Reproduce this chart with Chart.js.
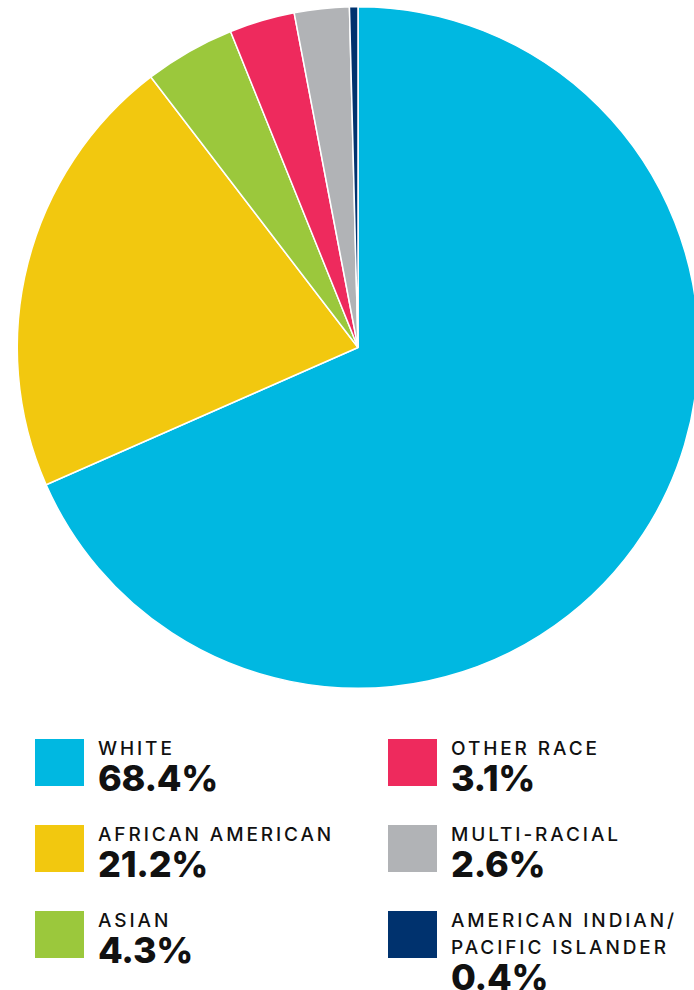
<!DOCTYPE html>
<html>
<head>
<meta charset="utf-8">
<script src="https://cdn.jsdelivr.net/npm/chart.js@4"></script>
<style>
  html, body { margin: 0; padding: 0; background: #fff; }
  body { width: 694px; height: 990px; overflow: hidden; position: relative; font-family: Inter, "Open Sans", sans-serif; color: #111; }
  #pie-wrap { position: absolute; left: 0; top: 6px; width: 716px; height: 683px; }
  .swatch { position: absolute; width: 49px; height: 47px; }
  .item { position: absolute; }
  .item .label { font-size: 19px; line-height: 27px; font-weight: 500; letter-spacing: 2.9px; white-space: nowrap; }
  .item .value { font-size: 36px; line-height: 36px; font-weight: 800; margin-top: -2px; letter-spacing: -0.3px; }
</style>
</head>
<body>
<div id="pie-wrap"><canvas id="chartRaza"></canvas></div>
<div id="legend"></div>
<script>
const categorias = ['WHITE', 'AFRICAN AMERICAN', 'ASIAN', 'OTHER RACE', 'MULTI-RACIAL', 'AMERICAN INDIAN/\nPACIFIC ISLANDER'];
const porcentajes = [68.4, 21.2, 4.3, 3.1, 2.6, 0.4];
const colores = ['#00B8E1', '#F2C80F', '#9BC83C', '#EE2A5D', '#B1B3B6', '#00326E'];

document.addEventListener('DOMContentLoaded', () => {
  const ctx = document.getElementById('chartRaza').getContext('2d');

  new Chart(ctx, {
    type: 'pie',
    data: {
      labels: categorias,
      datasets: [{
        data: porcentajes,
        backgroundColor: colores,
        borderColor: '#ffffff',
        borderWidth: 1.5,
        hoverOffset: 0
      }]
    },
    options: {
      responsive: true,
      maintainAspectRatio: false,
      animation: false,
      layout: { padding: 0 },
      plugins: {
        legend: { display: false },
        tooltip: { enabled: false }
      }
    }
  });

  // leyenda en dos columnas, tres filas
  const legend = document.getElementById('legend');
  categorias.forEach((cat, i) => {
    const col = Math.floor(i / 3);
    const row = i % 3;
    const rowTop = 739 + row * 86;
    const swatchLeft = col === 0 ? 35 : 388;
    const textLeft = col === 0 ? 98 : 451;

    const sw = document.createElement('div');
    sw.className = 'swatch';
    sw.style.left = swatchLeft + 'px';
    sw.style.top = rowTop + 'px';
    sw.style.background = colores[i];
    legend.appendChild(sw);

    const item = document.createElement('div');
    item.className = 'item';
    item.style.left = textLeft + 'px';
    item.style.top = (rowTop - 4) + 'px';
    item.innerHTML = `
      <div class="label">${cat.replace('\n', '<br>')}</div>
      <div class="value">${porcentajes[i].toFixed(1)}%</div>
    `;
    legend.appendChild(item);
  });
});
</script>
</body>
</html>
